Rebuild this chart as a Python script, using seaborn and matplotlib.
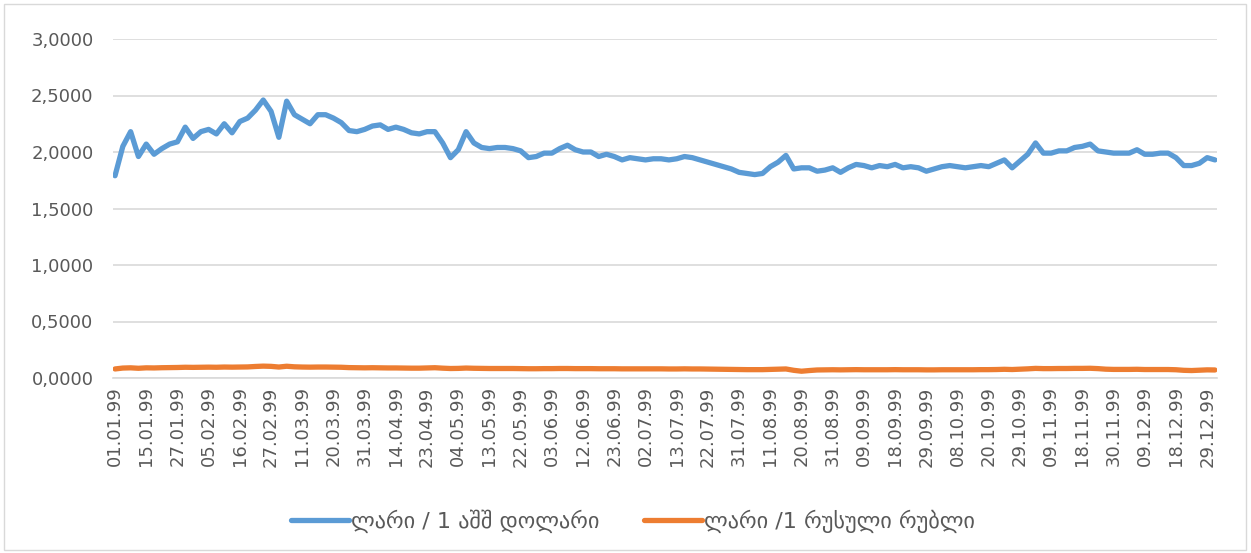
import pandas as pd
import matplotlib.pyplot as plt
import matplotlib.ticker as mticker
from matplotlib.patches import Rectangle
import seaborn as sns

# ლარის კურსი 1999 (მნიშვნელობები წაკითხულია სურათიდან)
date_labels = ['01.01.99', '15.01.99', '27.01.99', '05.02.99', '16.02.99', '27.02.99',
               '11.03.99', '20.03.99', '31.03.99', '14.04.99', '23.04.99', '04.05.99',
               '13.05.99', '22.05.99', '03.06.99', '12.06.99', '23.06.99', '02.07.99',
               '13.07.99', '22.07.99', '31.07.99', '11.08.99', '20.08.99', '31.08.99',
               '09.09.99', '18.09.99', '29.09.99', '08.10.99', '20.10.99', '29.10.99',
               '09.11.99', '18.11.99', '30.11.99', '09.12.99', '18.12.99', '29.12.99']

usd = [1.79, 2.05, 2.18, 1.96, 2.07, 1.98, 2.03, 2.07, 2.09, 2.22,
       2.12, 2.18, 2.20, 2.16, 2.25, 2.17, 2.27, 2.30, 2.37, 2.46,
       2.36, 2.13, 2.45, 2.33, 2.29, 2.25, 2.33, 2.33, 2.30, 2.26,
       2.19, 2.18, 2.20, 2.23, 2.24, 2.20, 2.22, 2.20, 2.17, 2.16,
       2.18, 2.18, 2.08, 1.95, 2.02, 2.18, 2.08, 2.04, 2.03, 2.04,
       2.04, 2.03, 2.01, 1.95, 1.96, 1.99, 1.99, 2.03, 2.06, 2.02,
       2.00, 2.00, 1.96, 1.98, 1.96, 1.93, 1.95, 1.94, 1.93, 1.94,
       1.94, 1.93, 1.94, 1.96, 1.95, 1.93, 1.91, 1.89, 1.87, 1.85,
       1.82, 1.81, 1.80, 1.81, 1.87, 1.91, 1.97, 1.85, 1.86, 1.86,
       1.83, 1.84, 1.86, 1.82, 1.86, 1.89, 1.88, 1.86, 1.88, 1.87,
       1.89, 1.86, 1.87, 1.86, 1.83, 1.85, 1.87, 1.88, 1.87, 1.86,
       1.87, 1.88, 1.87, 1.90, 1.93, 1.86, 1.92, 1.98, 2.08, 1.99,
       1.99, 2.01, 2.01, 2.04, 2.05, 2.07, 2.01, 2.00, 1.99, 1.99,
       1.99, 2.02, 1.98, 1.98, 1.99, 1.99, 1.95, 1.88, 1.88, 1.90,
       1.95, 1.93]

rub = [0.080, 0.088, 0.090, 0.086, 0.090, 0.089, 0.091, 0.092, 0.093, 0.095,
       0.094, 0.095, 0.096, 0.095, 0.097, 0.096, 0.097, 0.098, 0.102, 0.105,
       0.103, 0.097, 0.104, 0.099, 0.097, 0.096, 0.097, 0.097, 0.096, 0.095,
       0.092, 0.091, 0.090, 0.091, 0.090, 0.089, 0.089, 0.088, 0.087, 0.087,
       0.089, 0.091, 0.087, 0.084, 0.085, 0.088, 0.086, 0.085, 0.084, 0.084,
       0.084, 0.084, 0.083, 0.082, 0.082, 0.083, 0.083, 0.084, 0.084, 0.083,
       0.083, 0.083, 0.082, 0.082, 0.082, 0.081, 0.081, 0.081, 0.081, 0.081,
       0.081, 0.080, 0.080, 0.081, 0.080, 0.080, 0.079, 0.078, 0.077, 0.076,
       0.075, 0.074, 0.074, 0.074, 0.076, 0.078, 0.080, 0.068, 0.060, 0.066,
       0.071, 0.072, 0.073, 0.072, 0.073, 0.074, 0.073, 0.073, 0.073, 0.073,
       0.074, 0.073, 0.073, 0.073, 0.072, 0.072, 0.073, 0.073, 0.073, 0.073,
       0.073, 0.074, 0.074, 0.075, 0.077, 0.075, 0.078, 0.081, 0.085, 0.083,
       0.083, 0.084, 0.084, 0.085, 0.085, 0.086, 0.083, 0.078, 0.076, 0.076,
       0.076, 0.077, 0.075, 0.075, 0.075, 0.075, 0.073, 0.068, 0.066, 0.069,
       0.072, 0.071]

series_names = ['ლარი / 1 აშშ დოლარი', 'ლარი /1 რუსული რუბლი']
colors = ['#5B9BD5', '#ED7D31']

sns.set_theme(style="white")
plt.rcParams['font.family'] = ['DejaVu Sans']

n = len(usd)
df = pd.DataFrame({
    'idx': list(range(n)) * 2,
    'value': usd + rub,
    'series': [series_names[0]] * n + [series_names[1]] * n,
})

fig = plt.figure(figsize=(12.51, 5.53), dpi=100)
ax = fig.add_axes([113 / 1251, 1 - 378 / 553, (1217 - 113) / 1251, (378 - 39) / 553])

sns.lineplot(data=df, x='idx', y='value', hue='series', palette=colors,
             linewidth=3.8, ax=ax, legend=False, solid_capstyle='round')

ax.set_xlim(-0.26, n - 1 + 0.26)
ax.set_ylim(0, 3)
ax.set_yticks([0, 0.5, 1.0, 1.5, 2.0, 2.5, 3.0])
ax.yaxis.set_major_formatter(mticker.FuncFormatter(lambda v, p: f"{v:.4f}".replace('.', ',')))
ax.set_xticks(range(0, n, 4))
ax.set_xticklabels(date_labels, rotation=90)
ax.set_xlabel('')
ax.set_ylabel('')

ax.grid(axis='y', color='#D9D9D9', linewidth=1.2)
ax.set_axisbelow(True)
for side in ['top', 'right', 'left']:
    ax.spines[side].set_visible(False)
ax.spines['bottom'].set_color('#D9D9D9')
ax.spines['bottom'].set_linewidth(1.2)
ax.tick_params(axis='y', length=0, pad=14, labelsize=13, labelcolor='#595959')
ax.tick_params(axis='x', length=0, pad=6, labelsize=13, labelcolor='#595959')

handles = [plt.Line2D([], [], color=c, linewidth=3.8, solid_capstyle='round') for c in colors]
fig.legend(handles, series_names, loc='center', bbox_to_anchor=(0.506, 1 - 521 / 553),
           ncol=2, frameon=False, fontsize=16, handlelength=2.6, handletextpad=0.1,
           columnspacing=2.0, labelcolor='#595959')

# chart border
fig.patches.append(Rectangle((4 / 1251, 3 / 553), 1242 / 1251, 546 / 553,
                             transform=fig.transFigure, fill=False,
                             edgecolor='#D9D9D9', linewidth=1))

fig.savefig('out.png', dpi=100)
